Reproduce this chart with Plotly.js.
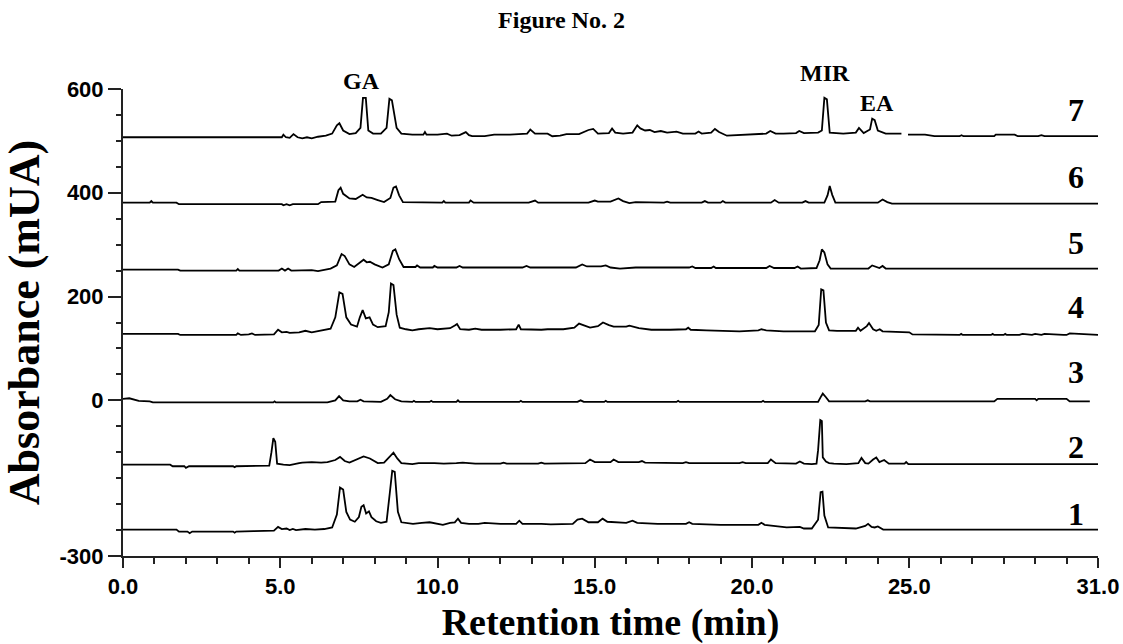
<!DOCTYPE html>
<html>
<head>
<meta charset="utf-8">
<script src="https://cdn.plot.ly/plotly-3.0.1.min.js"></script>
<style>html,body{margin:0;padding:0;background:#fff;}#chart{width:1123px;height:644px;}</style>
</head>
<body>
<div id="chart"></div>
<script>
// Retention time (min) and absorbance (mUA) for each chromatogram
const t1 = [0,1.7,1.78,2.05,2.12,2.2,3.5,3.55,3.6,4.1,4.15,4.8,4.93,5.05,5.2,5.3,5.4,5.5,5.8,6.1,6.4,6.65,6.8,6.9,7.0,7.1,7.22,7.37,7.5,7.58,7.65,7.73,7.82,7.9,8.05,8.2,8.38,8.48,8.56,8.64,8.74,8.85,9.22,9.5,9.75,10.17,10.4,10.55,10.65,10.75,11.0,11.3,11.5,12.0,12.5,12.6,12.7,13.3,13.6,14.3,14.45,14.6,14.8,15.1,15.25,15.4,16.0,16.2,16.35,17.0,17.9,18.0,18.1,19.0,20.2,20.3,20.4,21.1,21.45,21.52,21.65,21.9,22.1,22.18,22.24,22.3,22.42,22.8,23.3,23.6,23.69,23.8,23.9,24.0,24.1,24.17,31];
const a1 = [-249,-249,-253,-253,-256,-253,-253,-255,-253,-253,-252,-251,-244,-248,-247,-250,-248,-250,-248,-249,-248,-245,-220,-168,-172,-215,-230,-234,-225,-205,-202,-218,-214,-225,-233,-236,-234,-180,-136,-138,-215,-235,-238,-236,-235,-240,-236,-235,-228,-236,-238,-238,-236,-238,-238,-232,-238,-238,-239,-238,-230,-228,-235,-235,-228,-234,-236,-232,-236,-238,-238,-235,-238,-240,-240,-236,-240,-245,-245,-244,-247,-247,-230,-177,-176,-222,-245,-246,-247,-242,-238,-244,-245,-243,-246,-249,-249];

const t2 = [0,1.5,1.58,1.95,2.0,2.1,3.5,3.55,3.6,4.65,4.72,4.78,4.84,4.9,5.1,5.3,5.6,5.7,6.0,6.3,6.5,6.75,6.9,7.05,7.2,7.45,7.65,7.85,8.1,8.3,8.5,8.6,8.72,8.85,9.2,9.4,9.9,10.2,10.6,10.8,11.2,12.0,12.1,12.2,13.2,13.3,13.4,14.7,14.85,15.0,15.5,15.6,15.75,16.4,16.5,16.6,17.8,17.9,18.0,19.6,19.7,19.8,20.5,20.6,20.75,21.4,21.52,21.65,21.9,22.05,22.1,22.17,22.22,22.25,22.35,22.45,22.6,23.0,23.38,23.48,23.6,23.7,23.85,23.95,24.05,24.2,24.35,24.85,24.9,24.97,31];
const a2 = [-124,-124,-127,-127,-130,-127,-127,-129,-127,-126,-100,-73,-80,-122,-124,-125,-121,-120,-119,-120,-119,-115,-109,-117,-120,-114,-108,-112,-121,-120,-106,-101,-112,-121,-123,-121,-121,-122,-121,-120,-122,-122,-120,-122,-122,-120,-122,-121,-114,-119,-119,-114,-119,-119,-117,-120,-121,-119,-121,-121,-119,-121,-121,-114,-121,-122,-118,-122,-123,-122,-96,-38,-40,-110,-118,-121,-122,-123,-121,-111,-121,-122,-114,-110,-119,-115,-122,-122,-119,-123,-123];

const t3 = [0,0.2,0.5,0.85,0.95,4.78,4.82,4.86,6.5,6.75,6.87,7.0,7.2,7.45,7.55,7.65,8.2,8.4,8.5,8.65,8.85,9.2,9.25,9.3,9.75,9.8,9.85,10.6,10.65,10.7,12.6,12.65,12.7,14.45,14.55,14.65,15.3,15.35,15.4,17.6,17.65,17.7,20.3,20.35,20.4,22.1,22.2,22.25,22.35,22.45,23.6,23.68,23.75,27.7,27.8,29.0,29.05,29.1,30.0,30.1,30.74];
const a3 = [3,4,-1,-2,-4,-4,-2,-4,-4,0,8,0,-2,-2,1,-2,-3,3,10,2,-2,-3,-1,-3,-3,-1,-3,-3,0,-3,-3,-1,-3,-3,0,-3,-3,-1,-3,-3,-1,-3,-3,-1,-3,-3,8,13,6,-2,-2,0,-2,-2,3,3,0,3,3,-2,-2];

const t4 = [0,1.75,1.82,3.6,3.65,3.75,4.0,4.1,4.2,4.8,4.93,5.05,5.2,5.3,5.6,5.8,6.0,6.3,6.6,6.75,6.88,6.98,7.1,7.25,7.44,7.53,7.62,7.72,7.84,7.95,8.1,8.35,8.45,8.52,8.6,8.7,8.8,9.0,9.2,9.4,9.75,10.0,10.4,10.55,10.62,10.72,11.0,11.2,11.4,12.0,12.5,12.58,12.65,13.3,13.5,14.0,14.35,14.5,14.7,14.85,15.1,15.26,15.45,15.6,16.0,16.1,16.4,16.8,17.4,17.9,17.97,18.05,18.55,19.0,19.1,19.6,20.2,20.3,20.45,21.0,21.4,22.0,22.12,22.2,22.27,22.35,22.45,22.7,23.3,23.37,23.45,23.65,23.72,23.85,23.95,24.06,24.15,25.0,25.1,25.5,25.6,26.6,26.65,26.7,27.6,27.65,27.7,28.0,28.05,28.1,28.5,28.6,28.9,29.0,29.2,29.3,29.9,30.0,30.1,31];
const a4 = [128,128,126,126,129,126,127,129,126,127,136,131,132,130,131,134,131,134,138,160,208,205,160,146,142,160,174,158,160,146,141,143,170,225,222,165,140,137,135,137,139,137,139,144,147,137,136,138,136,136,137,146,137,136,137,137,140,148,144,140,143,150,145,142,142,144,139,136,136,137,140,136,135,134,133,133,135,137,135,133,133,133,145,214,212,150,135,134,134,140,134,143,149,137,134,137,133,131,127,127,126,126,128,126,126,128,126,126,128,126,126,128,126,128,126,128,126,126,129,126,126];

const t5 = [0,1.75,1.82,3.6,3.65,3.7,4.95,5.05,5.15,5.25,5.35,6.0,6.2,6.4,6.6,6.8,6.95,7.05,7.2,7.35,7.55,7.65,7.75,7.85,8.0,8.25,8.45,8.58,8.66,8.78,8.92,9.3,9.35,9.45,9.85,9.9,10.0,10.6,10.7,10.8,12.7,12.83,12.95,14.4,14.6,14.75,15.2,15.35,15.5,15.8,16.3,16.8,17.0,17.4,18.0,18.1,18.2,18.7,18.78,18.85,20.45,20.56,20.7,21.35,21.45,21.55,22.05,22.15,22.22,22.3,22.4,22.5,23.7,23.82,23.95,24.05,24.15,24.25,31];
const a5 = [252,252,250,250,253,250,250,254,250,254,250,251,249,251,254,260,282,278,262,257,266,271,266,267,262,256,262,288,291,272,257,257,260,256,256,259,256,256,259,256,256,259,256,256,262,258,258,260,256,254,256,256,257,256,256,258,255,255,258,255,255,259,255,255,258,254,255,270,291,285,262,254,254,260,257,255,259,254,254];

const t6 = [0,0.85,0.9,0.95,1.7,1.78,5.05,5.1,5.2,5.3,5.4,6.2,6.3,6.75,6.85,6.92,7.0,7.2,7.4,7.55,7.62,7.75,7.9,8.1,8.3,8.5,8.6,8.68,8.78,8.9,9.3,9.7,10.15,10.2,10.25,11.0,11.05,11.15,12.9,13.1,13.2,14.8,15.0,15.1,15.5,15.75,15.9,16.1,16.3,17.2,17.3,17.4,18.4,18.5,18.6,19.0,19.07,19.15,20.6,20.72,20.85,21.6,21.7,21.8,22.3,22.4,22.47,22.55,22.65,24.0,24.15,24.3,24.45,31];
const a6 = [381,381,384,381,381,378,378,376,378,376,378,378,382,383,405,410,398,389,388,394,396,391,390,386,382,390,410,412,395,382,382,381,381,384,381,381,385,381,381,385,381,381,385,383,383,389,384,380,382,381,383,381,381,384,381,381,384,381,381,386,381,381,384,381,381,395,413,396,381,381,387,382,379,379];

const t7 = [0,4.9,5.05,5.1,5.18,5.3,5.42,5.55,5.7,5.85,6.0,6.2,6.45,6.65,6.8,6.88,7.0,7.2,7.4,7.55,7.63,7.72,7.8,7.95,8.2,8.38,8.47,8.55,8.7,8.85,9.2,9.55,9.6,9.65,10.0,10.3,10.45,10.7,10.9,11.0,11.1,11.5,11.8,12.3,12.85,12.95,13.1,13.5,13.65,13.9,14.1,14.5,14.8,14.95,15.1,15.45,15.55,15.65,15.9,16.2,16.35,16.45,16.6,16.75,16.9,17.1,17.3,17.6,17.8,18.2,18.3,18.4,18.7,18.82,18.95,19.2,19.6,20.0,20.45,20.58,20.75,21.0,21.4,21.5,21.65,22.1,22.22,22.3,22.38,22.47,22.9,23.3,23.4,23.55,23.75,23.82,23.9,24.0,24.1,24.25,24.75,24.85,24.96,25.5,25.8,26.6,26.66,26.72,27.7,27.75,28.35,28.45,29.1,29.2,29.3,31];
const a7 = [507,507,507,512,507,506,513,507,505,507,505,508,510,514,530,534,520,513,515,525,583,583,520,514,514,525,581,578,525,514,512,512,517,512,512,514,510,511,517,511,509,509,512,512,514,522,514,514,509,510,513,513,521,523,514,515,524,516,514,516,530,524,520,521,517,519,516,518,514,514,518,514,516,523,517,510,511,512,514,519,514,514,515,519,515,516,520,583,580,516,514,516,525,515,522,543,540,520,518,514,514,null,512,512,509,509,511,509,509,512,512,509,509,511,509,509];

const traceNames = ['1','2','3','4','5','6','7'];
const times = [t1,t2,t3,t4,t5,t6,t7];
const values = [a1,a2,a3,a4,a5,a6,a7];

// labels
const xTickVals = [0,5,10,15,20,25,31];
const xTickText = ['0.0','5.0','10.0','15.0','20.0','25.0','31.0'];
const yTickVals = [600,400,200,0,-300];
const yTickText = ['600','400','200','0','-300'];
const compoundLabels = ['GA','MIR','EA'];
const compoundX = [7.58,22.31,23.97];
const compoundPaperY = [1.017,1.034,0.970];
const numberX = 30.29;
const numberPaperY = [0.090,0.233,0.394,0.534,0.671,0.811,0.955];

const data = times.map((t,i)=>({
  x: t, y: values[i], type:'scatter', mode:'lines', name: traceNames[i],
  line:{color:'#000', width:1.8}, connectgaps:false, hoverinfo:'skip'
}));

const serif = 'Liberation Serif, Times New Roman, serif';
const sans = 'Liberation Sans, Arial, sans-serif';

const annotations = [];
compoundLabels.forEach((s,i)=>annotations.push({x:compoundX[i], y:compoundPaperY[i], xref:'x', yref:'paper',
  xanchor:'center', yanchor:'middle', text:'<b>'+s+'</b>', showarrow:false,
  font:{family:serif, size:24, color:'#000', weight:700}}));
traceNames.forEach((s,i)=>annotations.push({x:numberX, y:numberPaperY[i], xref:'x', yref:'paper',
  xanchor:'center', yanchor:'middle', text:'<b>'+s+'</b>', showarrow:false,
  font:{family:serif, size:32, color:'#000', weight:700}}));

const axisColor = '#222';
const layout = {
  width:1123, height:644,
  margin:{l:123, r:25, t:89, b:88},
  paper_bgcolor:'#fff', plot_bgcolor:'#fff',
  showlegend:false,
  title:{text:'<b>Figure No. 2</b>', x:0.5, xref:'container', y:0.969, yref:'container', yanchor:'middle',
    font:{family:serif, size:24, color:'#000', weight:700}},
  xaxis:{range:[0,31], tickmode:'array', tickvals:xTickVals, ticktext:xTickText.map(s=>'<b>'+s+'</b>'),
    ticks:'outside', ticklen:10, tickwidth:2, tickcolor:axisColor,
    showline:true, linecolor:axisColor, linewidth:2, showgrid:false, zeroline:false,
    minor:{dtick:1, tick0:0, ticks:'outside', ticklen:6, tickwidth:2, tickcolor:axisColor, showgrid:false},
    tickfont:{family:sans, size:22, color:'#000', weight:700},
    title:{text:'<b>Retention time (min)</b>', standoff:12, font:{family:serif, size:38, color:'#000', weight:700}}},
  yaxis:{range:[-300,600], tickmode:'array', tickvals:yTickVals, ticktext:yTickText.map(s=>'<b>'+s+'</b>'),
    ticks:'outside', ticklen:13, tickwidth:2, tickcolor:axisColor,
    showline:true, linecolor:axisColor, linewidth:2, showgrid:false, zeroline:false,
    minor:{dtick:50, tick0:0, ticks:'outside', ticklen:5, tickwidth:2, tickcolor:axisColor, showgrid:false},
    tickfont:{family:sans, size:22, color:'#000', weight:700},
    title:{text:'<b>Absorbance (mUA)</b>', standoff:14, font:{family:serif, size:44, color:'#000', weight:700}}},
  annotations: annotations
};

Plotly.newPlot('chart', data, layout, {staticPlot:true, displayModeBar:false});
</script>
</body>
</html>
